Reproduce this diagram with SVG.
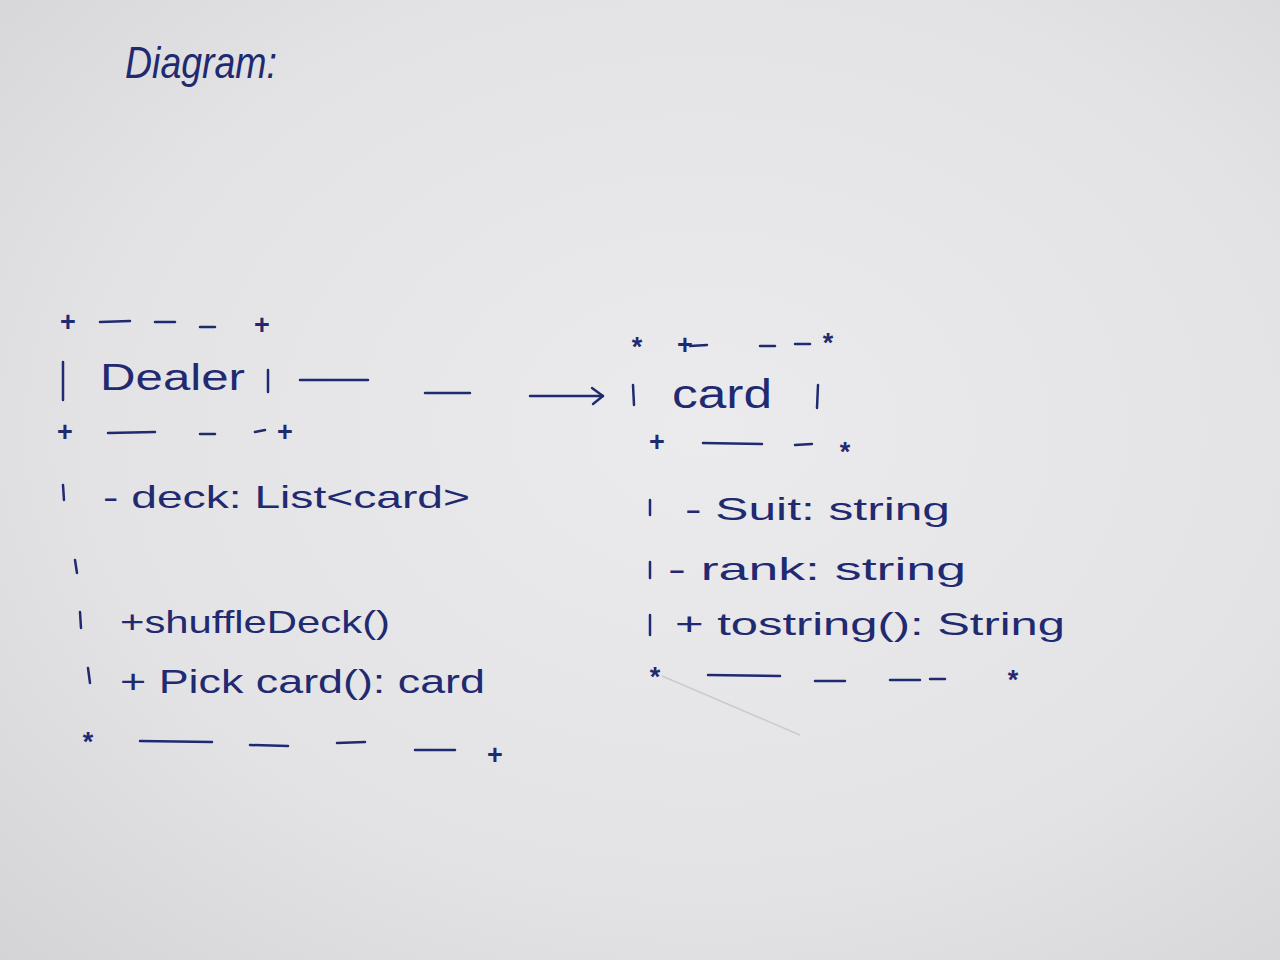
<svg xmlns="http://www.w3.org/2000/svg" width="1280" height="960" viewBox="0 0 1280 960">
<defs>
<radialGradient id="paper" cx="0.55" cy="0.45" r="0.8">
<stop offset="0" stop-color="#ebebed"/>
<stop offset="0.6" stop-color="#e3e3e5"/>
<stop offset="1" stop-color="#d3d3d5"/>
</radialGradient>
<marker id="head" markerWidth="16" markerHeight="20" refX="13" refY="10" orient="auto" markerUnits="userSpaceOnUse">
<path d="M2,2 L13,10 L3,18" fill="none" stroke="#1f2a70" stroke-width="2.4" stroke-linecap="round" stroke-linejoin="round"/>
</marker>
<style>
.t{font-family:"Liberation Sans","DejaVu Sans",sans-serif;fill:#1f2a70;}
.c{font-family:"Liberation Sans","DejaVu Sans",sans-serif;fill:#1f2a70;font-size:27px;font-weight:bold;text-anchor:middle;dominant-baseline:central;}
.l{stroke:#1f2a70;stroke-width:2.5;stroke-linecap:round;fill:none;}
</style>
</defs>
<rect width="1280" height="960" fill="url(#paper)"/>

<g id="title">
<text class="t" x="125" y="78" font-size="44" font-style="italic" textLength="152" lengthAdjust="spacingAndGlyphs">Diagram:</text>
</g>

<g id="dealer">
<text class="c" x="68" y="322">+</text>
<path class="l" d="M100,322 L130,321 M155,322 L175,322 M200,327 L215,327"/>
<text class="c" x="262" y="325">+</text>
<path class="l" d="M63,362 L63,400 M268,370 L268,392"/>
<text class="t" x="100" y="390" font-size="36" textLength="145" lengthAdjust="spacingAndGlyphs">Dealer</text>
<text class="c" x="65" y="432">+</text>
<path class="l" d="M108,433 L155,432 M200,434 L215,434 M255,432 L265,430"/>
<text class="c" x="285" y="432">+</text>
<path class="l" d="M63,485 L64,500 M75,560 L77,573 M80,612 L81,628 M88,668 L90,683"/>
<text class="t" x="103" y="508" font-size="32" textLength="367" lengthAdjust="spacingAndGlyphs">- deck: List&lt;card&gt;</text>
<text class="t" x="120" y="633" font-size="32" textLength="270" lengthAdjust="spacingAndGlyphs">+shuffleDeck()</text>
<text class="t" x="120" y="693" font-size="34" textLength="365" lengthAdjust="spacingAndGlyphs">+ Pick card(): card</text>
<text class="c" x="88" y="742">*</text>
<path class="l" d="M140,741 L212,742 M250,745 L288,746 M337,743 L365,742 M415,750 L455,750"/>
<text class="c" x="495" y="755">+</text>
</g>

<g id="card">
<text class="c" x="637" y="347">*</text>
<text class="c" x="685" y="345">+</text>
<path class="l" d="M690,346 L707,345 M760,346 L775,346 M795,344 L810,344"/>
<text class="c" x="828" y="343">*</text>
<path class="l" d="M633,385 L634,405 M818,385 L817,408"/>
<text class="t" x="672" y="408" font-size="40" textLength="100" lengthAdjust="spacingAndGlyphs">card</text>
<text class="c" x="657" y="442">+</text>
<path class="l" d="M703,443 L762,444 M795,445 L812,444"/>
<text class="c" x="845" y="452">*</text>
<path class="l" d="M650,500 L650,515 M650,562 L650,578 M650,615 L650,635"/>
<text class="t" x="685" y="520" font-size="32" textLength="265" lengthAdjust="spacingAndGlyphs">- Suit: string</text>
<text class="t" x="668" y="580" font-size="32" textLength="298" lengthAdjust="spacingAndGlyphs">- rank: string</text>
<text class="t" x="675" y="635" font-size="32" textLength="390" lengthAdjust="spacingAndGlyphs">+ tostring(): String</text>
<text class="c" x="655" y="677">*</text>
<path class="l" d="M708,675 L780,676 M815,681 L845,681 M890,680 L920,680 M930,679 L945,679"/>
<text class="c" x="1013" y="680">*</text>
</g>

<g id="connectors">
<path class="l" d="M300,380 L368,380 M425,393 L470,393"/>
<path class="l" d="M530,396 L603,396" marker-end="url(#head)"/>
<path d="M662,676 L800,735" stroke="#b9b9bd" stroke-width="1.5" fill="none" opacity="0.6"/>
</g>
</svg>
